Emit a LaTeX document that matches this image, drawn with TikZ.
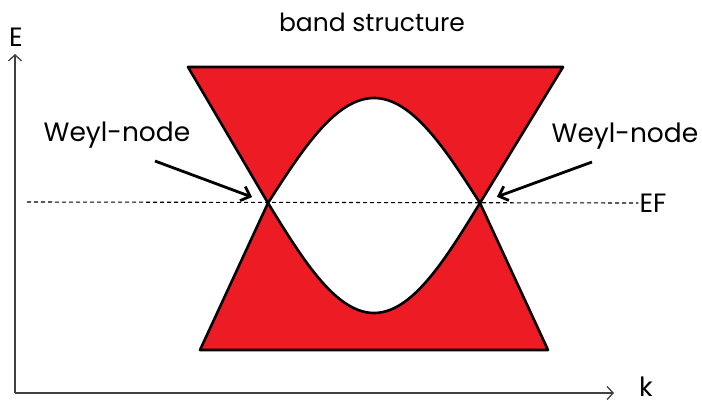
\documentclass[tikz,border=0pt]{standalone}
\usepackage{fontspec}
\setmainfont{Poppins}
\usetikzlibrary{arrows.meta,positioning,calc}
\definecolor{bandred}{RGB}{237,28,36}

\begin{document}
\begin{tikzpicture}[x=1pt, y=-1pt,
    band/.style={fill=bandred, draw=black, line width=2.6pt, line join=round},
    gap/.style={fill=white, draw=black, line width=2.6pt, line join=round},
    axis/.style={-{Straight Barb[length=6pt, width=13pt]}, line width=1.3pt, draw=black!75},
    pointer/.style={-{Straight Barb[length=8pt, width=15pt]}, line width=2.8pt},
    lbl/.style={font=\fontsize{26.5}{30}\selectfont, inner sep=1pt}
]
\useasboundingbox (0,0) rectangle (702,408);
% axes
\coordinate (O) at (15,393);
\coordinate (Etop) at (15,54);
\coordinate (kend) at (614,393);
\draw[axis] (O) -- (Etop);
\draw[axis] (O) -- (kend);
\node[lbl] (E) at (16,37) {E};
\node[lbl] (k) at (646,387) {k};
\node[lbl, font=\fontsize{25}{30}\selectfont] (title) at (372,22) {band structure};
% crossing points
\coordinate (wl) at (268,203);
\coordinate (wr) at (480,203);
\draw[band] (188,67) -- (563,67) -- (wr) -- (wl) -- cycle;
\draw[band] (200,350) -- (548,350) -- (wr) -- (wl) -- cycle;
\draw[gap] plot[domain=0:180, samples=60] ({268+1.17778*\x}, {203-105*sin(\x)})
    -- plot[domain=180:0, samples=60] ({268+1.17778*\x}, {203+110*sin(\x)}) -- cycle;
% Fermi level
\node[lbl] (EF) at (653,203) {EF};
\coordinate (fstart) at (27,202);
\draw[line width=1.1pt, dash pattern=on 4pt off 3pt] (fstart) -- (EF.west);
% labels
\node[lbl] (wlabl) at (117,135) {Weyl-node};
\node[lbl] (wlabr) at (625,136) {Weyl-node};
\coordinate (tl) at (155,161);
\coordinate (tr) at (592,162);
\draw[pointer, shorten >=17pt] (tl) -- (wl);
\draw[pointer, shorten >=18pt] (tr) -- (wr);
\end{tikzpicture}
\end{document}
